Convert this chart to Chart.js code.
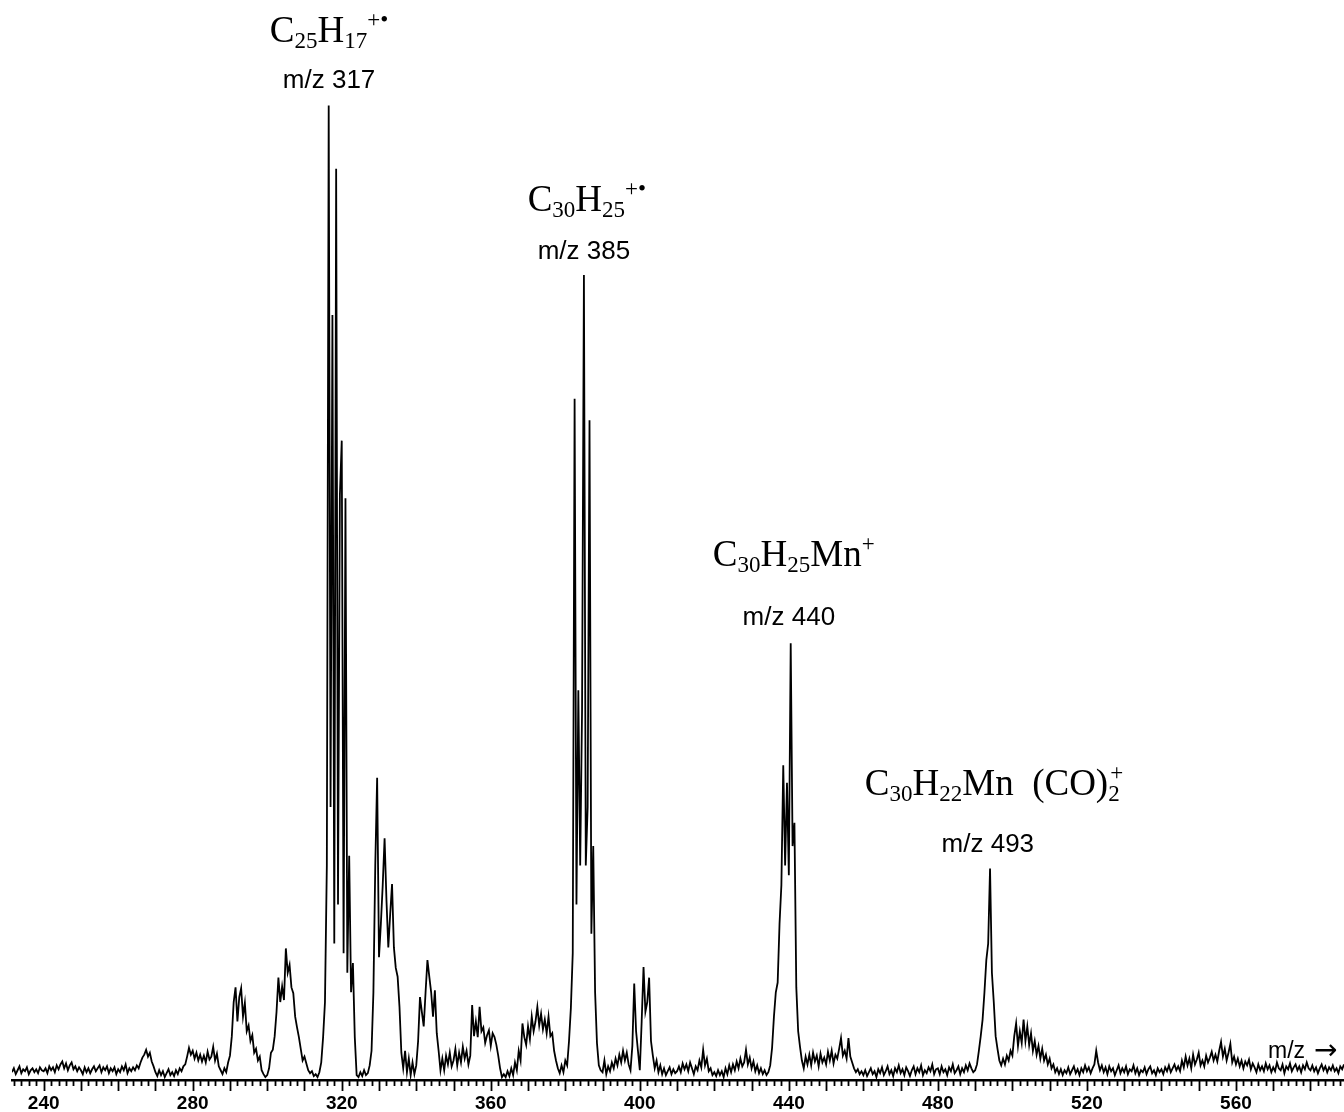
<!DOCTYPE html>
<html>
<head>
<meta charset="utf-8">
<title>Mass spectrum</title>
<script src="https://cdn.jsdelivr.net/npm/chart.js@4.4.1/dist/chart.umd.min.js"></script>
<style>
  html, body { margin: 0; padding: 0; background: #fff; }
  #wrap { width: 1344px; height: 1112px; position: relative; }
</style>
</head>
<body>
<div id="wrap"><canvas id="spectrum"></canvas></div>
<script>
// sampling of the trace (m/z)
const mzStart = 231.5;
const mzStep = 0.5;
const mzMin = 231.5;
const mzMax = 589;

// relative intensity, % of the m/z 317 peak, one value per half mass unit
const intensity = [
  0.8,1.2,0.6,1.0,1.4,0.7,1.1,0.9,1.3,0.6,1.0,1.2,0.8,1.1,0.7,1.3,1.0,        // 231.5
  0.9,1.2,0.7,1.4,1.0,1.3,0.8,1.5,1.1,1.6,1.9,1.2,1.7,1.0,1.5,1.8,1.1,1.4,0.9,1.3, // 240
  1.0,0.6,1.3,0.8,1.2,0.7,1.1,1.4,0.9,1.2,1.5,0.8,1.3,1.0,1.4,0.7,1.2,0.9,1.3,0.6, // 250
  1.1,0.8,1.4,1.0,1.6,0.7,1.2,0.9,1.3,1.0,1.5,1.2,1.8,2.3,2.6,3.1,2.4,2.8,1.9,1.4, // 260
  0.8,0.4,1.0,0.5,0.9,0.3,0.7,1.1,0.5,0.8,0.4,1.0,0.6,1.2,0.9,1.4,1.6,2.4,3.3,2.6, // 270
  3.0,2.2,2.8,2.0,2.6,1.9,2.5,1.8,2.9,2.1,2.4,3.4,2.0,2.7,1.4,1.0,0.6,1.2,0.8,1.8, // 280
  2.5,4.5,8.0,9.5,6.0,8.5,9.4,6.5,7.9,5.0,5.6,4.0,4.6,2.8,3.2,2.0,2.4,1.0,0.6,0.3, // 290
  0.5,1.2,2.8,3.1,4.5,7.0,10.5,8.0,9.6,8.2,13.5,11.0,11.8,9.5,8.9,6.5,5.4,4.4,3.2,2.0, // 300
  2.4,1.7,1.0,0.7,0.9,0.4,0.6,0.3,0.8,1.8,4.4,8.0,22,100,28,78.5,14,93.5,18,60,     // 310
  65.6,13,59.7,11,23,9,12,4.4,0.5,0.3,0.8,0.4,1.0,0.5,0.7,1.5,3.0,9,22,31,          // 320
  12.6,16,20,24.8,18.5,13.6,17,20.1,13.6,11.5,10.6,7.5,2.8,1.2,3.0,0.8,2.2,0.5,1.8,0.6, // 330
  1.5,4.0,8.5,7.0,5.5,9.0,12.3,10.6,9.0,6.5,9.2,4.8,3.0,1.0,2.2,1.0,2.5,1.6,2.8,1.4, // 340
  2.0,3.2,1.5,2.8,1.8,3.4,2.2,3.0,1.6,2.5,7.7,4.5,6.0,4.4,7.5,5.0,5.4,3.8,4.6,5.1, // 350
  3.5,4.8,4.4,3.6,2.5,1.2,0.3,0.6,0.3,0.9,0.4,1.2,0.5,1.8,1.0,3.0,2.0,5.8,4.4,3.6, // 360
  5.5,4.2,6.5,5.0,6.0,7.5,5.6,6.8,5.2,6.2,4.8,6.5,4.5,4.8,3.0,2.0,1.2,0.7,1.5,0.8, // 370
  2.0,1.5,4.0,7.4,13,69.9,18,40,22,38,82.6,22,28,67.7,15,24,9,3.8,1.5,1.0,         // 380
  0.8,2.0,0.6,1.4,0.9,1.8,1.2,2.2,1.5,2.6,1.8,3.0,2.0,2.8,1.6,1.0,3.5,9.9,5.0,3.0, // 390
  1.0,6.0,11.6,7.0,8.0,10.5,4.0,2.5,1.2,2.0,0.8,1.5,0.6,1.2,0.5,0.9,1.3,0.6,1.1,0.7, // 400
  0.9,1.4,0.8,1.7,1.1,1.6,0.9,1.8,1.2,0.6,1.4,1.0,2.0,1.3,3.1,1.5,2.2,0.9,1.2,0.5, // 410
  0.8,0.4,1.0,0.5,0.9,0.3,1.2,0.6,1.5,0.8,1.6,1.0,1.9,1.2,2.2,1.4,1.8,3.1,1.6,2.3, // 420
  1.2,1.9,0.9,1.5,0.7,1.2,0.6,1.0,0.5,0.8,1.5,3.3,6.5,9.0,10.0,16.0,20.0,32.3,22.0,30.5, // 430
  21.0,44.8,24.0,26.4,9.5,5.0,3.4,2.0,1.2,2.4,1.6,2.6,1.5,2.8,1.9,2.5,1.4,2.7,1.8,2.3, // 440
  1.6,2.9,2.0,3.0,1.7,2.6,2.2,3.2,4.3,2.5,3.0,2.2,4.3,2.4,1.8,1.2,0.8,1.1,0.6,0.9, // 450
  0.5,1.0,0.4,0.8,1.2,0.6,0.9,0.3,1.1,0.7,1.3,0.5,0.9,1.4,0.6,1.0,0.4,1.2,0.8,1.5, // 460
  0.7,1.1,0.5,1.3,0.9,0.4,1.0,1.4,0.6,1.2,0.8,1.5,0.5,1.0,0.7,1.3,0.9,1.6,0.6,1.1, // 470
  1.2,0.6,1.4,0.8,1.1,0.5,1.3,0.9,1.6,0.7,1.0,1.4,0.6,1.2,0.8,1.5,1.0,1.7,1.2,0.8, // 480
  1.0,1.6,3.0,4.5,6.2,9.0,12.3,14.0,21.7,11.0,8.0,4.5,3.2,2.0,1.5,2.2,1.6,2.5,2.0,3.0, // 490
  2.5,4.5,5.8,3.5,5.0,3.8,6.2,4.0,5.5,3.6,4.8,3.0,4.0,2.6,3.5,2.2,3.2,2.0,2.6,1.6, // 500
  2.2,1.2,1.6,0.8,1.2,0.6,1.1,0.5,1.0,0.7,1.3,0.6,1.0,1.4,0.7,1.1,0.5,1.2,0.8,1.5, // 510
  0.9,1.3,0.7,1.2,1.6,3.0,1.8,1.0,1.5,0.8,1.3,0.6,1.4,0.9,1.2,0.5,1.0,1.5,0.7,1.2, // 520
  0.8,1.4,0.6,1.1,0.9,1.5,0.7,1.2,0.5,1.0,0.8,1.3,0.6,1.1,1.4,0.7,1.0,0.5,1.2,0.8, // 530
  1.1,0.6,1.3,0.9,1.5,0.8,1.2,1.6,1.0,1.4,0.9,2.0,1.3,2.4,1.5,2.2,1.2,2.6,1.6,2.1, // 540
  2.8,1.5,2.0,1.4,2.5,1.8,2.3,2.9,2.0,2.6,1.9,3.0,3.9,2.4,3.2,2.0,2.8,3.7,1.8,2.4, // 550
  1.6,2.2,1.4,2.0,1.2,1.9,1.5,2.1,1.1,1.7,1.3,0.8,1.6,1.0,1.4,0.9,1.7,1.1,1.5,0.8, // 560
  1.3,0.9,1.8,1.2,1.0,1.6,0.7,1.4,1.1,1.7,0.9,1.3,1.6,1.0,1.4,0.8,1.5,1.1,1.8,1.2, // 570
  1.0,1.5,0.9,1.3,0.7,1.2,1.6,1.0,1.4,0.8,1.3,1.0,1.5,0.9,1.2,0.7,1.4,1.1,1.6      // 580
];

const tickLabels = [240, 280, 320, 360, 400, 440, 480, 520, 560];

// peak assignments: formula pieces and the m/z text
const peakFormulas = [
  [['C', ''], ['25', 'sub'], ['H', ''], ['17', 'sub'], ['+\u2022', 'sup']],
  [['C', ''], ['30', 'sub'], ['H', ''], ['25', 'sub'], ['+\u2022', 'sup']],
  [['C', ''], ['30', 'sub'], ['H', ''], ['25', 'sub'], ['Mn', ''], ['+', 'sup']],
  [['C', ''], ['30', 'sub'], ['H', ''], ['22', 'sub'], ['Mn  (CO)', ''], ['2', 'sub'], ['+', 'over']]
];
const peakMz = ['m/z 317', 'm/z 385', 'm/z 440', 'm/z 493'];

// where each annotation sits: formula left edge and m/z text centre (in m/z), baselines (px)
const labelLayout = [
  { formulaAt: 300.7, formulaY: 42, mzAt: 316.6, mzY: 88 },
  { formulaAt: 369.9, formulaY: 211, mzAt: 385.0, mzY: 259 },
  { formulaAt: 419.6, formulaY: 566, mzAt: 440.0, mzY: 625 },
  { formulaAt: 460.4, formulaY: 795, mzAt: 493.4, mzY: 852 }
];

const serif = '"Liberation Serif", "Times New Roman", serif';
const sans = '"Liberation Sans", Arial, sans-serif';

function drawFormula(ctx, parts, x0, y) {
  let x = x0;
  let subStart = x0;
  parts.forEach(([text, kind]) => {
    let dy = 0;
    if (kind === 'sub' || kind === 'sup' || kind === 'over') {
      ctx.font = '23px ' + serif;
      dy = kind === 'sub' ? 6 : -15;
    } else {
      ctx.font = '37px ' + serif;
    }
    if (kind === 'over') x = subStart + 2;
    if (kind === 'sub') subStart = x;
    ctx.fillText(text, x, y + dy);
    x += ctx.measureText(text).width;
  });
}

const axisMarks = {
  id: 'axisMarks',
  afterDraw(chart) {
    const ctx = chart.ctx;
    const xs = chart.scales.x;
    const base = chart.chartArea.bottom;
    ctx.save();
    ctx.strokeStyle = '#000';
    ctx.lineWidth = 1.8;
    for (let v = 232; v <= 588; v += 2) {
      const px = Math.round(xs.getPixelForValue(v)) + 0.5;
      const len = v % 10 === 0 ? 11 : 6;
      ctx.beginPath();
      ctx.moveTo(px, base);
      ctx.lineTo(px, base + len);
      ctx.stroke();
    }
    ctx.restore();
  }
};

const annotate = {
  id: 'annotate',
  afterDraw(chart) {
    const ctx = chart.ctx;
    const xs = chart.scales.x;
    ctx.save();
    ctx.fillStyle = '#000';
    ctx.textBaseline = 'alphabetic';
    peakFormulas.forEach((parts, i) => {
      const lay = labelLayout[i];
      ctx.textAlign = 'left';
      drawFormula(ctx, parts, xs.getPixelForValue(lay.formulaAt), lay.formulaY);
      ctx.font = '26px ' + sans;
      ctx.textAlign = 'center';
      ctx.fillText(peakMz[i], xs.getPixelForValue(lay.mzAt), lay.mzY);
    });
    // axis name at the right end
    const ax = xs.getPixelForValue(568.6);
    ctx.textAlign = 'left';
    ctx.font = '23px ' + sans;
    ctx.fillText('m/z', ax, 1058);
    ctx.font = '28px "DejaVu Sans", sans-serif';
    ctx.fillText('\u2192', ax + 46, 1059);
    ctx.restore();
  }
};

const ctx = document.getElementById('spectrum').getContext('2d');
new Chart(ctx, {
  type: 'line',
  data: {
    datasets: [{
      data: intensity.map((v, i) => ({ x: mzStart + i * mzStep, y: v })),
      borderColor: '#000',
      borderWidth: 1.8,
      pointRadius: 0,
      tension: 0,
      fill: false
    }]
  },
  options: {
    responsive: true,
    maintainAspectRatio: false,
    animation: false,
    parsing: false,
    layout: { padding: { left: 12, right: 0, top: 5, bottom: 0 } },
    plugins: {
      legend: { display: false },
      tooltip: { enabled: false }
    },
    scales: {
      x: {
        type: 'linear',
        min: mzMin,
        max: mzMax,
        afterBuildTicks: (scale) => {
          scale.ticks = tickLabels.map(v => ({ value: v }));
        },
        afterFit: (scale) => { scale.height = 32; },
        grid: { display: false, drawTicks: false },
        border: { display: true, color: '#000', width: 2.5 },
        ticks: {
          color: '#000',
          padding: 14,
          maxRotation: 0,
          autoSkip: false,
          font: { family: sans, size: 19, weight: 'bold', lineHeight: 1 },
          callback: (v) => String(v)
        }
      },
      y: {
        display: false,
        min: 0,
        max: 110.3
      }
    }
  },
  plugins: [axisMarks, annotate]
});
</script>
</body>
</html>
